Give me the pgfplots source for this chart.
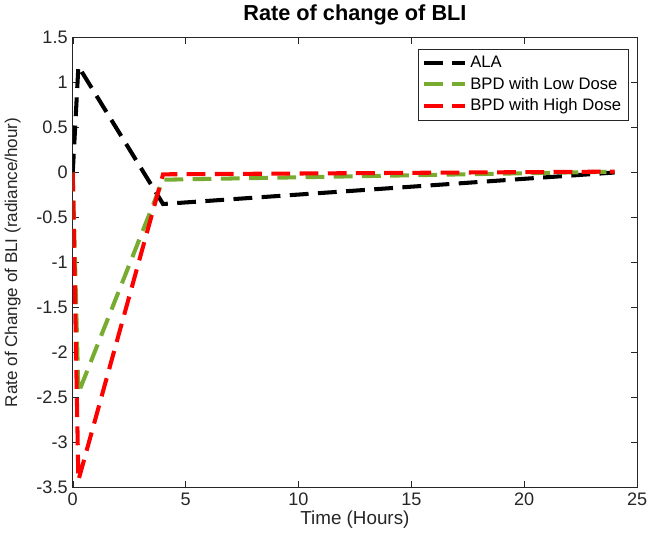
\documentclass[border=0pt]{standalone}
\usepackage{fontspec}
\setmainfont{Liberation Sans}
\usepackage{pgfplots}
\pgfplotsset{compat=1.18}
\definecolor{mgreen}{rgb}{0.466,0.674,0.188}
\definecolor{axgray}{rgb}{0.15,0.15,0.15}
\begin{document}
\begin{tikzpicture}
\begin{axis}[
  width=390pt, height=311pt, scale only axis,
  xmin=0, xmax=25, ymin=-3.5, ymax=1.5,
  xtick={0,5,...,25}, ytick={-3.5,-3,...,1.5},
  axis line style={axgray}, tick style={axgray},
  every tick label/.append style={font=\fontsize{12.5}{14}\selectfont, text=axgray},
  /pgf/number format/assume math mode=true,
  yticklabel style={/pgf/number format/fixed},
  title={\bfseries Rate of change of BLI},
  title style={font=\fontsize{15}{17}\selectfont, yshift=-1pt},
  xlabel={Time (Hours)}, ylabel={Rate of Change of BLI (radiance/hour)},
  xlabel style={font=\fontsize{13}{15}\selectfont, text=axgray, yshift=3pt},
  ylabel style={font=\fontsize{11.8}{14}\selectfont, text=axgray, yshift=4pt},
  legend style={at={(0.985,0.975)}, anchor=north east, font=\fontsize{11.5}{13}\selectfont,
    draw=axgray, row sep=1pt, inner sep=3pt},
  legend cell align=left,
  legend image code/.code={\draw[#1] (0cm,0cm) -- (1.0cm,0cm);},
  every axis plot/.append style={line width=2.8pt, dash pattern=on 13pt off 6.5pt},
]
\addplot[black] coordinates {(0,0) (0.25,1.18) (4,-0.35) (24,0)};
\addplot[mgreen] coordinates {(0,0) (0.25,-2.45) (4,-0.08) (24,0.01)};
\addplot[red] coordinates {(0,0) (0.25,-3.42) (4,-0.02) (24,0.01)};
\legend{ALA, BPD with Low Dose, BPD with High Dose}
\end{axis}
\end{tikzpicture}
\end{document}
